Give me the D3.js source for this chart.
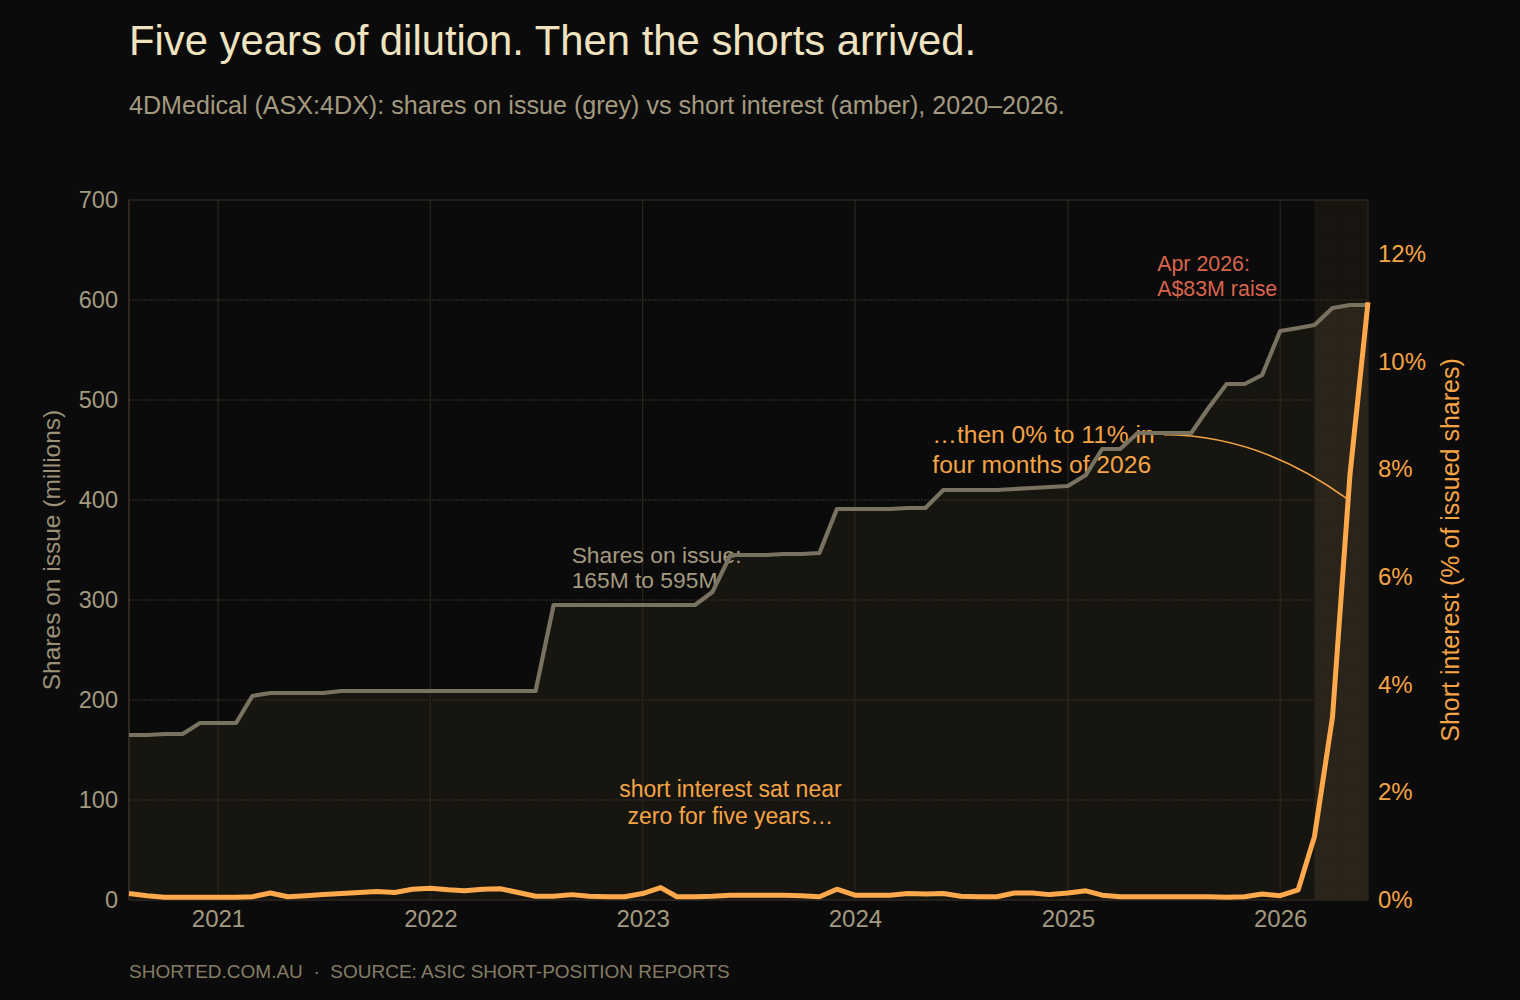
<!DOCTYPE html>
<html>
<head>
<meta charset="utf-8">
<script src="https://cdn.jsdelivr.net/npm/d3@7"></script>
<style>
  html, body { margin: 0; padding: 0; background: #0b0b0b; }
  svg { display: block; }
  text { font-family: "Liberation Sans", Arial, Helvetica, sans-serif; }
</style>
</head>
<body>
<svg id="chart" width="1520" height="1000"></svg>
<script>
// ---------- DATA ----------
const months = [
  "2020-08","2020-09","2020-10","2020-11","2020-12",
  "2021-01","2021-02","2021-03","2021-04","2021-05","2021-06","2021-07","2021-08","2021-09","2021-10","2021-11","2021-12",
  "2022-01","2022-02","2022-03","2022-04","2022-05","2022-06","2022-07","2022-08","2022-09","2022-10","2022-11","2022-12",
  "2023-01","2023-02","2023-03","2023-04","2023-05","2023-06","2023-07","2023-08","2023-09","2023-10","2023-11","2023-12",
  "2024-01","2024-02","2024-03","2024-04","2024-05","2024-06","2024-07","2024-08","2024-09","2024-10","2024-11","2024-12",
  "2025-01","2025-02","2025-03","2025-04","2025-05","2025-06","2025-07","2025-08","2025-09","2025-10","2025-11","2025-12",
  "2026-01","2026-02","2026-03","2026-04","2026-05","2026-06"
];
// shares on issue, millions
const sharesOnIssue = [
  165,165,166,166,177,
  177,177,204,207,207,207,207,209,209,209,209,209,
  209,209,209,209,209,209,209,295,295,295,295,295,
  295,295,295,295,308,345,345,345,346,346,347,391,
  391,391,391,392,392,410,410,410,410,411,412,413,
  414,425,451,451,467,467,467,467,493,516,516,525,
  569,572,575,592,595,595
];
// short interest, % of issued shares
const shortInterest = [
  0.12,0.08,0.05,0.05,0.05,
  0.05,0.05,0.06,0.13,0.06,0.08,0.10,0.12,0.14,0.16,0.14,0.20,
  0.22,0.19,0.17,0.20,0.21,0.14,0.07,0.07,0.10,0.07,0.06,0.06,
  0.12,0.23,0.06,0.06,0.07,0.09,0.09,0.09,0.09,0.08,0.06,0.20,
  0.09,0.09,0.09,0.12,0.11,0.12,0.07,0.06,0.06,0.13,0.13,0.10,
  0.13,0.17,0.09,0.06,0.06,0.06,0.06,0.06,0.06,0.05,0.06,0.11,
  0.08,0.19,1.18,3.40,7.90,11.10
];
const leftTicks = [0,100,200,300,400,500,600,700];
const rightTicks = [0,2,4,6,8,10,12];
const yearTicks = ["2021","2022","2023","2024","2025","2026"];
const highlightStart = "2026-03";

// ---------- LAYOUT ----------
const W = 1520, H = 1000;
const m = { left: 129, right: 1368, top: 200, bottom: 900 };
const parse = d3.timeParse("%Y-%m");
const data = months.map((mo, i) => ({ date: parse(mo), shares: sharesOnIssue[i], si: shortInterest[i] }));

const x = d3.scaleTime().domain(d3.extent(data, d => d.date)).range([m.left, m.right]);
const yL = d3.scaleLinear().domain([0, 700]).range([m.bottom, m.top]);
const yR = d3.scaleLinear().domain([0, 13]).range([m.bottom, m.top]);

const svg = d3.select("#chart");
svg.append("rect").attr("width", W).attr("height", H).attr("fill", "#0b0b0b");

const defs = svg.append("defs");
defs.append("clipPath").attr("id", "plotclip")
  .append("rect").attr("x", m.left).attr("y", m.top).attr("width", m.right - m.left).attr("height", m.bottom - m.top);
const dots = defs.append("pattern").attr("id", "dots").attr("width", 3).attr("height", 3).attr("patternUnits", "userSpaceOnUse");
dots.append("rect").attr("width", 1).attr("height", 1).attr("fill", "rgba(255,230,190,0.04)");

const g = svg.append("g").attr("clip-path", "url(#plotclip)");

// area under shares
const area = d3.area().x(d => x(d.date)).y0(yL(0)).y1(d => yL(d.shares));
g.append("path").datum(data).attr("d", area).attr("fill", "#161510");

// highlight band
const hx = x(parse(highlightStart));
g.append("rect").attr("x", hx).attr("y", m.top).attr("width", m.right - hx).attr("height", m.bottom - m.top)
  .attr("fill", "#16140f");
defs.append("clipPath").attr("id", "bandclip")
  .append("rect").attr("x", hx).attr("y", m.top).attr("width", m.right - hx).attr("height", m.bottom - m.top);
g.append("path").datum(data).attr("d", area).attr("fill", "#2a2319").attr("clip-path", "url(#bandclip)");
g.append("rect").attr("x", hx).attr("y", m.top).attr("width", m.right - hx).attr("height", m.bottom - m.top)
  .attr("fill", "url(#dots)");

// grid
const gridH = svg.append("g");
leftTicks.forEach(t => {
  gridH.append("line").attr("x1", m.left).attr("x2", m.right).attr("y1", yL(t)).attr("y2", yL(t))
    .attr("stroke", "#2d271e").attr("stroke-width", 1.3).attr("stroke-dasharray", t === 700 ? null : "2,1");
});
yearTicks.forEach(yr => {
  const xx = x(d3.timeParse("%Y")(yr));
  gridH.append("line").attr("x1", xx).attr("x2", xx).attr("y1", m.top).attr("y2", m.bottom)
    .attr("stroke", "#2a241c").attr("stroke-width", 1.3);
});
// frame
svg.append("line").attr("x1", m.left).attr("x2", m.left).attr("y1", m.top).attr("y2", m.bottom).attr("stroke", "#2e281f").attr("stroke-width", 2);
svg.append("line").attr("x1", m.right).attr("x2", m.right).attr("y1", m.top).attr("y2", m.bottom).attr("stroke", "#2a251d").attr("stroke-width", 1.5);
svg.append("line").attr("x1", m.left).attr("x2", m.right).attr("y1", m.bottom).attr("y2", m.bottom).attr("stroke", "#2a251d").attr("stroke-width", 1.5);

// annotations (behind lines)
const ann = svg.append("g");
function multiline(xp, yp, lines, color, size, anchor, lh) {
  const t = ann.append("text").attr("x", xp).attr("y", yp).attr("fill", color)
    .attr("font-size", size).attr("text-anchor", anchor || "start");
  lines.forEach((l, i) => t.append("tspan").attr("x", xp).attr("dy", i === 0 ? 0 : lh).text(l));
}
multiline(x(parse("2022-09")), 563, ["Shares on issue:", "165M to 595M"], "#a39a80", 22.8, "start", 25);
multiline(x(parse("2023-05")) + 18, 797, ["short interest sat near", "zero for five years…"], "#f5a445", 23, "middle", 27);
multiline(x(parse("2024-05")) + 7, 443, ["…then 0% to 11% in", "four months of 2026"], "#f5a445", 24.6, "start", 30);
multiline(x(parse("2025-08")) - 34, 271, ["Apr 2026:", "A$83M raise"], "#d9654c", 21.4, "start", 25);

// leader
const p0 = [x(parse("2025-06")) + 8, yR(8.64)];
const p1 = [x(parse("2026-04")) + 14, yR(7.46)];
const ctrl = [p0[0] + (p1[0] - p0[0]) * 0.52, p0[1]];
const lp = d3.path(); lp.moveTo(p0[0], p0[1]); lp.quadraticCurveTo(ctrl[0], ctrl[1], p1[0], p1[1]);
svg.append("path").attr("d", lp.toString()).attr("fill", "none").attr("stroke", "#f5a445").attr("stroke-width", 1.6);

// lines
const lineL = d3.line().x(d => x(d.date)).y(d => yL(d.shares));
const lineR = d3.line().x(d => x(d.date)).y(d => yR(d.si));
svg.append("path").datum(data).attr("d", lineL).attr("fill", "none").attr("stroke", "#7a7260").attr("stroke-width", 4.2).attr("stroke-linejoin", "round");
svg.append("path").datum(data).attr("d", lineR).attr("fill", "none").attr("stroke", "#ffa94d").attr("stroke-width", 5).attr("stroke-linejoin", "round");

// axes
const axL = svg.append("g").attr("transform", `translate(${m.left},0)`)
  .call(d3.axisLeft(yL).tickValues(leftTicks).tickSize(0).tickPadding(11));
axL.select(".domain").remove();
axL.selectAll("text").attr("fill", "#a39a80").attr("font-size", 23.5).attr("font-family", "Liberation Sans, Arial, sans-serif");

const axR = svg.append("g").attr("transform", `translate(${m.right},0)`)
  .call(d3.axisRight(yR).tickValues(rightTicks).tickFormat(d => d + "%").tickSize(0).tickPadding(10));
axR.select(".domain").remove();
axR.selectAll("text").attr("fill", "#f5a445").attr("font-size", 24).attr("font-family", "Liberation Sans, Arial, sans-serif");

const axB = svg.append("g").attr("transform", `translate(0,${m.bottom})`)
  .call(d3.axisBottom(x).tickValues(yearTicks.map(y => d3.timeParse("%Y")(y))).tickFormat(d3.timeFormat("%Y")).tickSize(0).tickPadding(10));
axB.select(".domain").remove();
axB.selectAll("text").attr("fill", "#a39a80").attr("font-size", 24).attr("font-family", "Liberation Sans, Arial, sans-serif");

// axis titles
svg.append("text").attr("transform", `translate(60,${(m.top + m.bottom) / 2}) rotate(-90)`)
  .attr("text-anchor", "middle").attr("fill", "#9a9178").attr("font-size", 24.5).text("Shares on issue (millions)");
svg.append("text").attr("transform", `translate(1459,${(m.top + m.bottom) / 2}) rotate(-90)`)
  .attr("text-anchor", "middle").attr("fill", "#f5a445").attr("font-size", 25).text("Short interest (% of issued shares)");

// titles
svg.append("text").attr("x", 129).attr("y", 55).attr("fill", "#efe3c0").attr("font-size", 41.8)
  .text("Five years of dilution. Then the shorts arrived.");
svg.append("text").attr("x", 129).attr("y", 114).attr("fill", "#a39a80").attr("font-size", 25.1)
  .text("4DMedical (ASX:4DX): shares on issue (grey) vs short interest (amber), 2020–2026.");
svg.append("text").attr("x", 129).attr("y", 978).attr("fill", "#857d66").attr("font-size", 19)
  .style("white-space", "pre")
  .text("SHORTED.COM.AU  ·  SOURCE: ASIC SHORT-POSITION REPORTS");
</script>
</body>
</html>
